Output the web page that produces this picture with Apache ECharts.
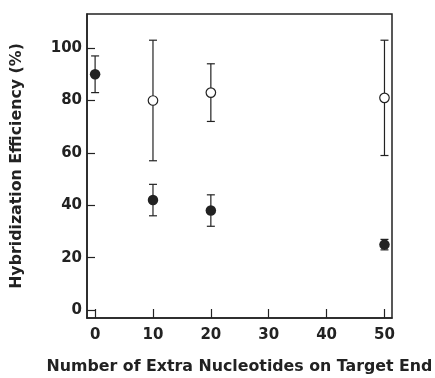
<!DOCTYPE html>
<html>
<head>
<meta charset="utf-8">
<script src="https://cdn.jsdelivr.net/npm/echarts@6/dist/echarts.min.js"></script>
<style>html,body{margin:0;padding:0;background:#fff;}#c{width:435px;height:378px;}</style>
</head>
<body>
<div id="c"></div>
<script>
const xTicks = [0, 10, 20, 30, 40, 50];
const yTicks = [0, 20, 40, 60, 80, 100];

const filledX = [0, 10, 20, 50];
const filledY = [90, 42, 38, 25];
const filledLow = [83, 36, 32, 23];
const filledHigh = [97, 48, 44, 27];

const openX = [10, 20, 50];
const openY = [80, 83, 81];
const openLow = [57, 72, 59];
const openHigh = [103, 94, 103];

const ink = '#222';
const font = 'DejaVu Sans, Liberation Sans, Arial, sans-serif';

function errData(xs, lo, hi) {
  return xs.map((x, i) => [x, lo[i], hi[i]]);
}
function errRender(params, api) {
  const x = api.value(0);
  const lo = api.coord([x, api.value(1)]);
  const hi = api.coord([x, api.value(2)]);
  const cw = 4;
  const style = { stroke: ink, lineWidth: 1.2 };
  return {
    type: 'group',
    children: [
      { type: 'line', shape: { x1: lo[0], y1: lo[1], x2: hi[0], y2: hi[1] }, style },
      { type: 'line', shape: { x1: lo[0] - cw, y1: lo[1], x2: lo[0] + cw, y2: lo[1] }, style },
      { type: 'line', shape: { x1: hi[0] - cw, y1: hi[1], x2: hi[0] + cw, y2: hi[1] }, style }
    ]
  };
}

const chart = echarts.init(document.getElementById('c'), null, { renderer: 'canvas' });
chart.setOption({
  animation: false,
  backgroundColor: '#fff',
  grid: { left: 87, right: 43, top: 14, bottom: 60, containLabel: false, outerBoundsMode: 'none',
          show: true, borderColor: ink, borderWidth: 1.5, backgroundColor: 'transparent' },
  xAxis: {
    type: 'value', min: -1.4, max: 51.3,
    name: 'Number of Extra Nucleotides on Target End',
    nameLocation: 'middle', nameGap: 41,
    nameTextStyle: { fontFamily: font, fontWeight: 'bold', fontSize: 15.8, color: ink },
    axisLine: { show: true, onZero: false, lineStyle: { color: ink, width: 1.5 } },
    axisTick: { show: true, inside: true, length: 9, customValues: xTicks, lineStyle: { color: ink, width: 1.2 } },
    axisLabel: { customValues: xTicks, fontFamily: font, fontWeight: 'bold', fontSize: 15, color: ink, margin: 10 },
    splitLine: { show: false }
  },
  yAxis: {
    type: 'value', min: -3, max: 113,
    name: 'Hybridization Efficiency (%)',
    nameLocation: 'middle', nameGap: 62,
    nameTextStyle: { fontFamily: font, fontWeight: 'bold', fontSize: 15.8, color: ink },
    axisLine: { show: true, onZero: false, lineStyle: { color: ink, width: 1.5 } },
    axisTick: { show: true, inside: true, length: 8, customValues: yTicks, lineStyle: { color: ink, width: 1.2 } },
    axisLabel: { customValues: yTicks, fontFamily: font, fontWeight: 'bold', fontSize: 15, color: ink, margin: 5 },
    splitLine: { show: false }
  },
  series: [
    { type: 'custom', renderItem: errRender, data: errData(filledX, filledLow, filledHigh), z: 1 },
    { type: 'custom', renderItem: errRender, data: errData(openX, openLow, openHigh), z: 1 },
    { type: 'scatter', symbol: 'circle', symbolSize: 10.5, data: filledX.map((x, i) => [x, filledY[i]]),
      itemStyle: { color: ink, opacity: 1 }, z: 3 },
    { type: 'scatter', symbol: 'circle', symbolSize: 9.5, data: openX.map((x, i) => [x, openY[i]]),
      itemStyle: { color: '#fff', borderColor: ink, borderWidth: 1.2, opacity: 1 }, z: 3 }
  ]
});
</script>
</body>
</html>
